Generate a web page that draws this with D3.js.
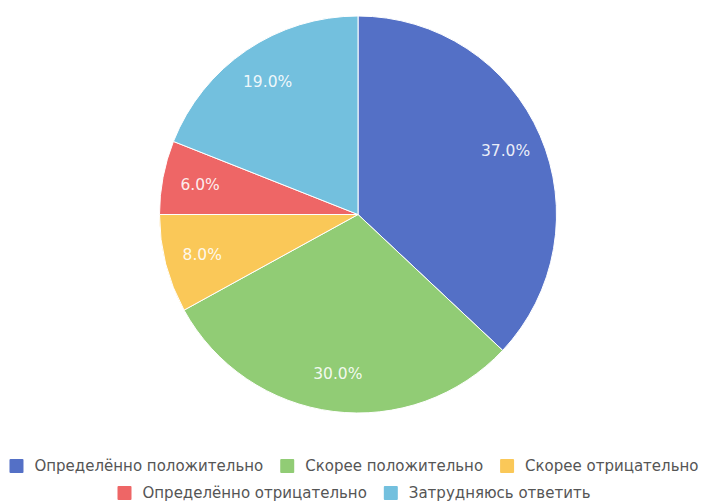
<!DOCTYPE html>
<html>
<head>
<meta charset="utf-8">
<script src="https://cdn.jsdelivr.net/npm/d3@7"></script>
<style>
  body { margin: 0; background: #fff; }
  text { font-family: "DejaVu Sans", sans-serif; }
</style>
</head>
<body>
<svg id="chart"></svg>
<script>
// data
const categories = ['Определённо положительно', 'Скорее положительно', 'Скорее отрицательно', 'Определённо отрицательно', 'Затрудняюсь ответить'];
const values = [37, 30, 8, 6, 19];
const colors = ['#5470c6', '#91cc75', '#fac858', '#ee6666', '#73c0de'];

const width = 702;
const height = 502;
const cx = 358, cy = 214.5, radius = 198.5;

const svg = d3.select('#chart')
    .attr('width', width)
    .attr('height', height);

const total = d3.sum(values);
const pie = d3.pie().sort(null).value(d => d.value);
const arcs = pie(values.map((v, i) => ({ value: v, name: categories[i], color: colors[i] })));
const arc = d3.arc().innerRadius(0).outerRadius(radius);
const labelArc = d3.arc().innerRadius(radius * 0.81).outerRadius(radius * 0.81);

const g = svg.append('g').attr('transform', `translate(${cx},${cy})`);

g.selectAll('path')
    .data(arcs)
    .enter()
    .append('path')
        .attr('d', arc)
        .attr('fill', d => d.data.color)
        .attr('stroke', '#fff')
        .attr('stroke-width', 1);

g.selectAll('text')
    .data(arcs)
    .enter()
    .append('text')
        .attr('transform', d => `translate(${labelArc.centroid(d)})`)
        .attr('text-anchor', 'middle')
        .attr('dy', '0.35em')
        .attr('fill', '#fff')
        .attr('fill-opacity', 0.9)
        .attr('font-size', 15.5)
        .text(d => (d.data.value / total * 100).toFixed(1) + '%');

// legend, centered rows that wrap
const legend = svg.append('g');
const itemGap = 17, boxSize = 14, boxText = 11;
const items = categories.map((c, i) => {
    const item = legend.append('g');
    item.append('rect')
        .attr('width', boxSize).attr('height', boxSize)
        .attr('y', -boxSize / 2)
        .attr('rx', 1)
        .attr('fill', colors[i]);
    const t = item.append('text')
        .attr('x', boxSize + boxText)
        .attr('dy', '0.35em')
        .attr('font-size', 15)
        .attr('fill', '#555')
        .text(c);
    return { node: item, w: boxSize + boxText + t.node().getComputedTextLength() };
});

const maxW = width;
const rows = [[]];
let rowW = 0;
items.forEach(it => {
    const add = (rows[rows.length - 1].length ? itemGap : 0) + it.w;
    if (rowW + add > maxW && rows[rows.length - 1].length) {
        rows.push([it]);
        rowW = it.w;
    } else {
        rows[rows.length - 1].push(it);
        rowW += add;
    }
});

rows.forEach((row, r) => {
    const total = d3.sum(row, d => d.w) + itemGap * (row.length - 1);
    let x = (width - total) / 2 + 3;
    row.forEach(it => {
        it.node.attr('transform', `translate(${x},${466 + r * 27})`);
        x += it.w + itemGap;
    });
});
</script>
</body>
</html>
